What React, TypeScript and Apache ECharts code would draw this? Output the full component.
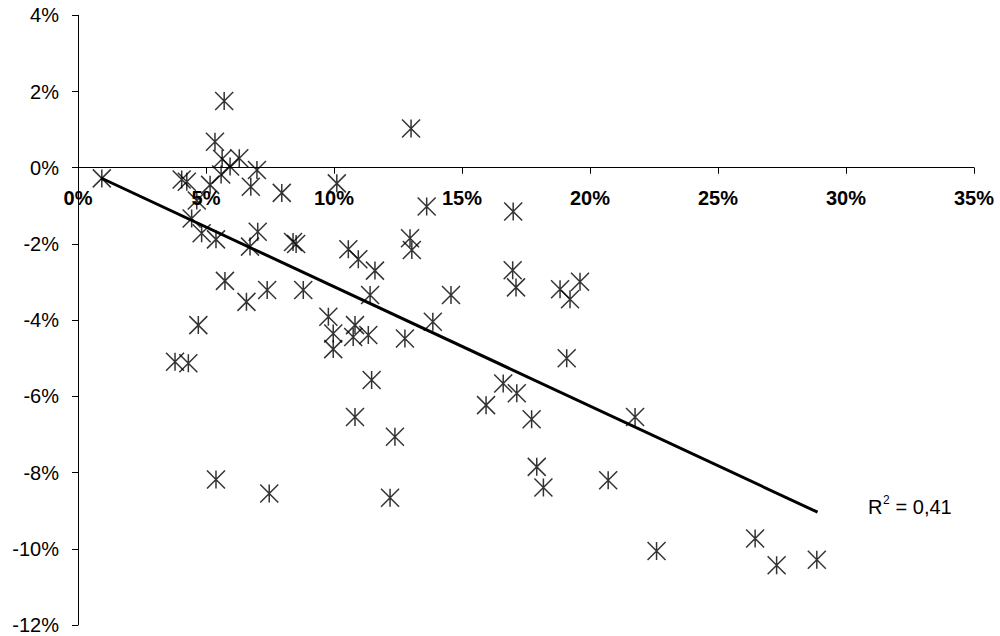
import React, { useEffect, useRef } from "react";
import * as echarts from "echarts";

// Scatter points (percent units)
const xValues = [
  0.93, 4.05, 4.25, 4.64, 5.16, 5.35, 5.71, 5.63, 5.94, 5.59,
  6.3, 6.75, 6.99, 7.96, 10.11, 4.44, 4.83, 5.39, 6.72, 7.02,
  8.4, 8.52, 5.74, 6.58, 7.39, 8.8, 4.7, 3.79, 4.31, 5.39,
  7.47, 9.78, 9.97, 9.97, 10.82, 10.75, 11.34, 12.77, 13.62, 17.0,
  12.97, 13.04, 14.57, 13.86, 16.98, 17.11, 18.83, 19.22, 19.61, 13.01,
  10.56, 10.95, 11.6, 11.41, 11.47, 10.82, 12.38, 12.19, 19.09, 16.61,
  17.14, 15.94, 17.72, 21.76, 17.92, 18.18, 20.71, 22.6, 26.45, 27.29,
  28.86,
];
const yValues = [
  -0.28, -0.31, -0.37, -0.86, -0.45, 0.68, 1.75, 0.23, 0.03, -0.18,
  0.25, -0.5, -0.06, -0.66, -0.41, -1.33, -1.72, -1.88, -2.07, -1.68,
  -1.95, -2.0, -2.97, -3.52, -3.21, -3.21, -4.13, -5.09, -5.13, -8.18,
  -8.55, -3.91, -4.35, -4.76, -4.13, -4.44, -4.39, -4.48, -1.02, -1.15,
  -1.85, -2.16, -3.34, -4.04, -2.69, -3.14, -3.19, -3.45, -2.99, 1.03,
  -2.14, -2.4, -2.7, -3.34, -5.57, -6.54, -7.06, -8.66, -5.0, -5.66,
  -5.92, -6.23, -6.6, -6.54, -7.85, -8.39, -8.2, -10.06, -9.73, -10.43,
  -10.29,
];

// Linear trend line end points
const trendX = [0.9, 28.89];
const trendY = [-0.27, -9.04];

// Axis ranges
const xAxisRange = [0, 35, 5];
const yAxisRange = [-12, 4, 2];

// Annotation
const r2Prefix = "R";
const r2Sup = "2";
const r2Value = " = 0,41";

const FONT = "'Liberation Sans', Arial, sans-serif";
const STAR = "path://M0 0L18 18M18 0L0 18M9 0L9 18";

const GRID = { left: 78, right: 26, top: 15.3, bottom: 11 };
const HEIGHT = 636;

export default function App() {
  const ref = useRef<HTMLDivElement>(null);

  useEffect(() => {
    if (!ref.current) return;
    const chart = echarts.init(ref.current, null, { renderer: "svg" });
    const points = xValues.map((x, i) => [x, yValues[i]]);
    const trend = trendX.map((x, i) => [x, trendY[i]]);
    const plotH = HEIGHT - GRID.top - GRID.bottom;
    // place the x axis on the y = 0 line (moved down from the top edge of the grid)
    const zeroOffset = -(plotH * (yAxisRange[1] - 0)) / (yAxisRange[1] - yAxisRange[0]);

    chart.setOption({
      animation: false,
      backgroundColor: "#fff",
      grid: { ...GRID, containLabel: false },
      xAxis: {
        type: "value",
        position: "top",
        offset: zeroOffset,
        min: xAxisRange[0],
        max: xAxisRange[1],
        interval: xAxisRange[2],
        axisLine: { onZero: false, lineStyle: { color: "#000", width: 1 } },
        axisTick: { show: true, inside: true, length: 6, lineStyle: { color: "#000", width: 1 } },
        axisLabel: {
          inside: true,
          formatter: (v: number) => `${v}%`,
          color: "#000",
          fontFamily: FONT,
          fontSize: 20,
          fontWeight: "bold",
          margin: 20,
          showMinLabel: true,
          showMaxLabel: true,
        },
        splitLine: { show: false },
      },
      yAxis: {
        type: "value",
        min: yAxisRange[0],
        max: yAxisRange[1],
        interval: yAxisRange[2],
        axisLine: { show: true, onZero: false, lineStyle: { color: "#000", width: 1 } },
        axisTick: { show: true, length: 6, lineStyle: { color: "#000", width: 1 } },
        axisLabel: {
          formatter: (v: number) => `${v}%`,
          color: "#000",
          fontFamily: FONT,
          fontSize: 20,
          margin: 19,
        },
        splitLine: { show: false },
      },
      series: [
        {
          type: "line",
          data: trend,
          symbol: "none",
          lineStyle: { color: "#000", width: 3 },
          z: 3,
        },
        {
          type: "scatter",
          data: points,
          symbol: STAR,
          symbolSize: 18,
          itemStyle: { color: "rgba(0,0,0,0)", borderColor: "#000", borderWidth: 1.5 },
          z: 2,
        },
      ],
      graphic: [
        {
          type: "text",
          left: 868,
          top: 497,
          style: { text: r2Prefix, fontFamily: FONT, fontSize: 20, fill: "#000" },
        },
        {
          type: "text",
          left: 883,
          top: 494,
          style: { text: r2Sup, fontFamily: FONT, fontSize: 12, fill: "#000" },
        },
        {
          type: "text",
          left: 890,
          top: 497,
          style: { text: r2Value, fontFamily: FONT, fontSize: 20, fill: "#000", whiteSpace: "pre" },
        },
      ],
    });
    return () => chart.dispose();
  }, []);

  return (
    <div
      ref={ref}
      style={{ position: "fixed", left: 0, top: 0, width: 1000, height: 636, background: "#fff" }}
    />
  );
}
